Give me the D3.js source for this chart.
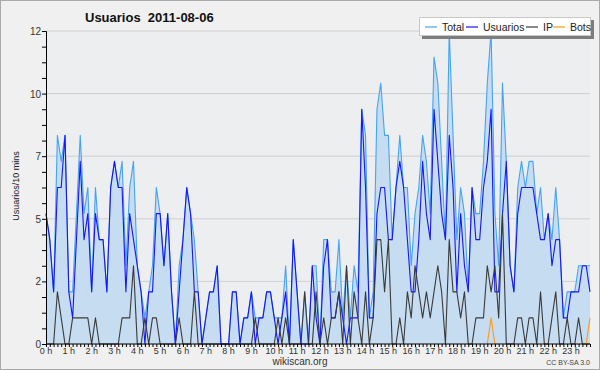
<!DOCTYPE html>
<html>
<head>
<meta charset="utf-8">
<script src="https://cdn.jsdelivr.net/npm/d3@7"></script>
<style>
  body { margin: 0; background: #fff; }
  svg text { font-family: "Liberation Sans", Arial, sans-serif; }
</style>
</head>
<body>
<svg width="600" height="370"></svg>
<script>
// one value per 10 minutes, 00:00 .. 23:50
const usuarios = [5,4,2,6,6,8,2,1,4,7,4,5,2,5,4,4,2,6,7,6,6,2,5,4,3,2,0,2,2,5,5,3,5,2,0,2,4,6,5,2,2,0,1,2,2,3,0,0,
                  0,2,2,0,1,1,2,0,1,1,2,2,1,0,1,2,0,4,2,0,0,0,3,1,0,3,4,1,1,2,1,0,1,1,1,9,6,1,1,5,6,6,4,4,6,7,6,4,
                  2,2,4,7,5,4,9,7,5,4,8,6,2,5,3,2,6,4,4,6,7,9,2,2,5,7,3,2,5,6,6,6,6,5,4,4,5,3,4,4,1,1,2,2,2,3,3,2];
const ip       = [0,0,0,2,1,0,0,1,1,1,1,1,0,1,0,0,0,0,0,0,1,1,1,3,0,0,1,0,1,1,0,0,0,0,0,1,0,0,0,2,0,0,0,0,0,0,0,0,
                  0,0,0,0,0,0,0,1,0,0,0,0,0,1,0,1,0,0,0,0,2,0,0,2,0,1,0,1,1,2,0,3,0,2,1,0,2,0,1,4,4,2,4,0,0,1,0,2,
                  1,3,2,1,2,1,2,3,2,0,4,2,2,1,2,0,0,1,1,1,3,2,3,1,5,0,0,0,1,1,0,1,1,0,2,0,0,1,2,0,0,1,0,0,1,0,0,0];
const bots     = [0,0,0,0,0,0,0,0,0,0,0,0,0,0,0,0,0,0,0,0,0,0,0,0,0,0,0,0,0,0,0,0,0,0,0,0,0,0,0,0,0,0,0,0,0,0,0,0,
                  0,0,0,0,0,0,0,0,0,0,0,0,0,0,0,0,0,0,0,0,0,0,0,0,0,0,0,0,0,0,0,0,0,0,0,0,0,0,0,0,0,0,0,0,0,0,0,0,
                  0,0,0,0,0,0,0,0,0,0,0,0,0,0,0,0,0,0,0,0,0,1,0,0,0,0,0,0,0,0,0,0,0,0,0,0,0,0,0,0,0,0,0,0,0,0,0,1];
const total    = [5,4,2,8,7,8,2,2,5,8,5,6,2,6,4,4,2,6,7,6,7,3,6,7,3,2,1,2,3,6,5,3,5,2,0,3,4,6,5,4,2,0,1,2,2,3,0,0,
                  0,2,2,0,1,1,2,1,1,1,2,2,1,1,1,3,0,4,2,0,2,0,3,3,0,4,4,2,2,4,1,3,1,3,2,9,8,1,2,9,10,8,8,4,6,8,6,6,
                  3,5,6,8,7,5,11,10,7,4,12,8,4,6,5,2,6,5,5,7,10,12,5,3,10,7,3,2,6,7,6,7,7,5,6,4,5,4,6,4,1,2,2,2,3,3,3,3];
const hourLabels = d3.range(24).map(h => h + " h");
const seriesNames = ["Total", "Usuarios", "IP", "Bots"];
const seriesColors = ["#45a3f5", "#1515ff", "#3a3a3a", "#ff9a1a"];

const svg = d3.select("svg");
const W = 600, H = 370;
const plot = {left: 46, right: 590, top: 31, bottom: 344};

svg.append("rect").attr("x", 0.5).attr("y", 0.5).attr("width", W - 1).attr("height", H - 1)
    .attr("fill", "#f0f0f0").attr("stroke", "#aaaaaa");
svg.append("rect").attr("x", plot.left).attr("y", plot.top)
    .attr("width", plot.right - plot.left).attr("height", plot.bottom - plot.top)
    .attr("fill", "#edeef0");

const x = d3.scaleLinear().domain([0, total.length - 1]).range([plot.left, plot.right]);
const y = d3.scaleLinear().domain([0, 12]).range([plot.bottom, plot.top]);

const majors = d3.range(0, 12.001, 2.4);
// grid
svg.append("g").selectAll("line").data(majors.slice(1)).join("line")
    .attr("x1", plot.left).attr("x2", plot.right)
    .attr("y1", d => y(d)).attr("y2", d => y(d))
    .attr("stroke", "#cfcfd2").attr("stroke-width", 1);

// area + lines
const idx = d3.range(total.length);
svg.append("path").datum(idx)
    .attr("d", d3.area().x(i => x(i)).y0(y(0)).y1(i => y(total[i])))
    .attr("fill", "#c6dcf0");

[total, usuarios, ip, bots].forEach((s, k) => {
  const pts = k === 3 ? idx.filter(i => s[i] > 0 || s[i - 1] > 0 || s[i + 1] > 0) : idx;
  svg.append("path").datum(idx)
      .attr("d", d3.line().defined(i => pts.includes(i)).x(i => x(i)).y(i => y(s[i])))
      .attr("fill", "none").attr("stroke", seriesColors[k]).attr("stroke-width", 1.1)
      .attr("stroke-linejoin", "round");
});

// y axis
const yAxis = d3.axisLeft(y).tickValues(d3.range(0, 12.001, 0.6)).tickSize(4)
    .tickFormat(d => Math.abs(d / 2.4 - Math.round(d / 2.4)) < 1e-6 ? Math.round(d) : "");
const gy = svg.append("g").attr("transform", `translate(${plot.left},0)`).call(yAxis);
gy.select(".domain").attr("stroke", "#000");
gy.selectAll("line").attr("stroke", "#000");
gy.selectAll("text").attr("font-size", 10).attr("fill", "#333").attr("x", -5).attr("dy", "0.35em")
    .attr("font-family", "DejaVu Sans");

// x axis
const xAxis = d3.axisBottom(x).tickValues(idx).tickSize(3).tickFormat("");
const gx = svg.append("g").attr("transform", `translate(0,${plot.bottom})`).call(xAxis);
gx.select(".domain").attr("stroke", "#000").attr("d", `M${plot.left},0H${plot.right}`);
gx.selectAll("line").attr("stroke", "#000");
svg.append("g").selectAll("text").data(hourLabels).join("text")
    .attr("x", (d, h) => x(h * 6)).attr("y", 354)
    .attr("text-anchor", "middle").attr("font-size", 9).attr("font-family", "DejaVu Sans")
    .attr("fill", "#333").text(d => d);

// titles
svg.append("text").attr("x", 85).attr("y", 22).attr("font-size", 13).attr("font-weight", "bold")
    .attr("xml:space", "preserve").style("white-space", "pre").attr("fill", "#111")
    .text("Usuarios  2011-08-06");
svg.append("text").attr("transform", `translate(19,186) rotate(-90)`)
    .attr("text-anchor", "middle").attr("font-size", 9).attr("font-family", "DejaVu Sans Mono")
    .attr("fill", "#222").text("Usuarios/10 mins");
svg.append("text").attr("x", 300).attr("y", 365).attr("text-anchor", "middle")
    .attr("font-size", 10).attr("fill", "#333").text("wikiscan.org");
svg.append("text").attr("x", 590).attr("y", 365).attr("text-anchor", "end")
    .attr("font-size", 7).attr("fill", "#444").text("CC BY-SA 3.0");

// legend
const lg = svg.append("g");
lg.append("rect").attr("x", 422).attr("y", 20).attr("width", 172).attr("height", 19).attr("fill", "#7d7d7d");
lg.append("rect").attr("x", 419.5).attr("y", 17.5).attr("width", 171).attr("height", 18)
    .attr("fill", "#fff").attr("stroke", "#c8c8c8");
const legX = [425, 466, 526, 553];
seriesNames.forEach((n, k) => {
  lg.append("line").attr("x1", legX[k]).attr("x2", legX[k] + 12).attr("y1", 27).attr("y2", 27)
      .attr("stroke", seriesColors[k]).attr("stroke-width", 1.2);
  lg.append("text").attr("x", legX[k] + 17).attr("y", 31).attr("font-size", 10.5)
      .attr("fill", "#222").text(n);
});
</script>
</body>
</html>
